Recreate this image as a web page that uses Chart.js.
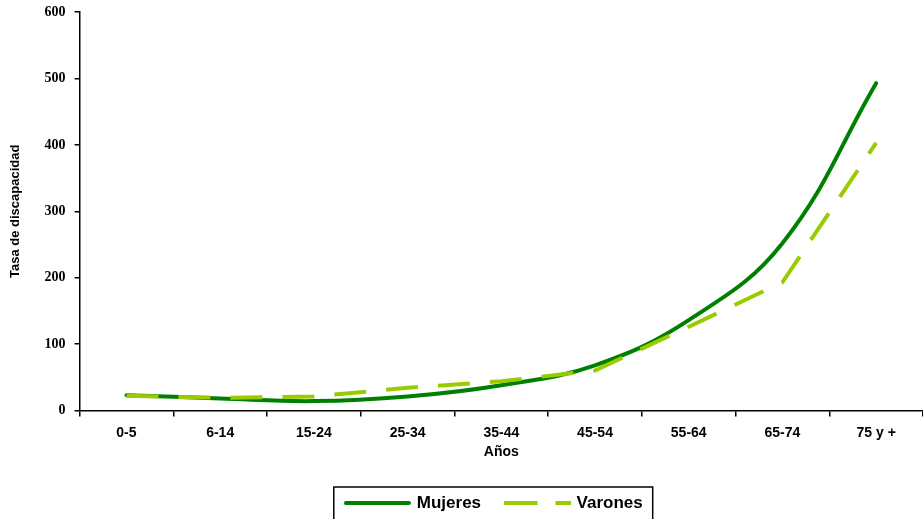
<!DOCTYPE html>
<html>
<head>
<meta charset="utf-8">
<script src="https://cdn.jsdelivr.net/npm/chart.js@4"></script>
<style>
  body { margin: 0; background: #fff; }
  #caja { width: 923px; height: 519px; }
</style>
</head>
<body>
<div id="caja"><canvas id="grafico"></canvas></div>
<script>
const edades = ["0-5", "6-14", "15-24", "25-34", "35-44", "45-54", "55-64", "65-74", "75 y +"]
const mujeres = [23, 18, 14, 21, 38, 68, 136, 252, 493]
const varones = [22, 19, 21, 34, 44, 60, 126, 193, 403]
const marcasY = [0, 100, 200, 300, 400, 500, 600]

// muestra de linea para la leyenda (la leyenda no aplica el guion)
function muestra(color, guion, redondo) {
  const c = document.createElement("canvas")
  c.width = 67
  c.height = 6
  const g = c.getContext("2d")
  g.strokeStyle = color
  g.lineWidth = 4
  g.lineCap = redondo ? "round" : "butt"
  g.setLineDash(guion)
  g.beginPath()
  g.moveTo(redondo ? 2 : 0, 3)
  g.lineTo(redondo ? 65 : 67, 3)
  g.stroke()
  return c
}

// posicion y borde de la leyenda
const leyendaBorde = {
  id: "leyendaBorde",
  afterLayout: (chart) => {
    const ley = chart.legend
    ley.left += 29
    ley.right += 29
    const alto = ley.bottom - ley.top
    ley.top = 469.5
    ley.bottom = ley.top + alto
  },
  afterDraw: (chart) => {
    const cajas = chart.legend.legendHitBoxes
    if (!cajas || !cajas.length) return
    let izq = Math.min(...cajas.map(c => c.left)) - 12.5
    let der = Math.max(...cajas.map(c => c.left + c.width)) + 10
    let arriba = 487
    const ctx = chart.ctx
    ctx.save()
    ctx.strokeStyle = "#000"
    ctx.lineWidth = 1.5
    ctx.setLineDash([])
    ctx.strokeRect(izq, arriba, der - izq, chart.height - arriba + 10)
    ctx.restore()
  }
}

const lienzo = document.getElementById("grafico")

new Chart(lienzo, {
  type: "line",
  data: {
    labels: edades,
    datasets: [
      {
        label: "Mujeres",
        data: mujeres,
        borderColor: "#008000",
        backgroundColor: "#008000",
        borderWidth: 4,
        borderCapStyle: "round",
        tension: 0.4,
        pointRadius: 0,
        pointStyle: muestra("#008000", [], true),
        order: 1,
      },
      {
        label: "Varones",
        data: varones,
        borderColor: "#99CC00",
        backgroundColor: "#99CC00",
        borderWidth: 4,
        borderDash: [32, 20],
        tension: 0,
        pointRadius: 0,
        pointStyle: muestra("#99CC00", [34, 18], false),
        order: 0,
      },
    ],
  },
  options: {
    responsive: true,
    maintainAspectRatio: false,
    animation: false,
    layout: { padding: { top: 0, right: 0, left: 8, bottom: 0 } },
    plugins: {
      tooltip: { enabled: false },
      legend: {
        position: "bottom",
        labels: {
          usePointStyle: true,
          pointStyleWidth: 62,
          padding: 25,
          color: "#000",
          font: { family: "Liberation Sans", size: 17, weight: "bold" },
          sort: (a, b) => a.datasetIndex - b.datasetIndex,
        },
      },
    },
    scales: {
      x: {
        offset: true,
        grid: { offset: true, drawOnChartArea: false, tickLength: 6, color: "#000", lineWidth: 1.5 },
        border: { color: "#000", width: 1.5 },
        ticks: { color: "#000", padding: 8, maxRotation: 0, font: { family: "Liberation Sans", size: 14, weight: "bold" } },
        title: { display: true, text: "Años", color: "#000", padding: { top: -5, bottom: 6 }, font: { family: "Liberation Sans", size: 14, weight: "bold" } },
      },
      y: {
        min: 0,
        max: 600,
        afterBuildTicks: (eje) => { eje.ticks = marcasY.map(v => ({ value: v })) },
        grid: { drawOnChartArea: false, tickLength: 5, color: "#000", lineWidth: 1.5 },
        border: { color: "#000", width: 1.5 },
        ticks: { color: "#000", padding: 9, font: { family: "Liberation Serif", size: 14, weight: "bold", lineHeight: 0.45 } },
        title: { display: true, text: "Tasa de discapacidad", color: "#000", padding: { top: 0, bottom: 12 }, font: { family: "Liberation Sans", size: 13, weight: "bold" } },
      },
    },
  },
  plugins: [leyendaBorde],
})
</script>
</body>
</html>
